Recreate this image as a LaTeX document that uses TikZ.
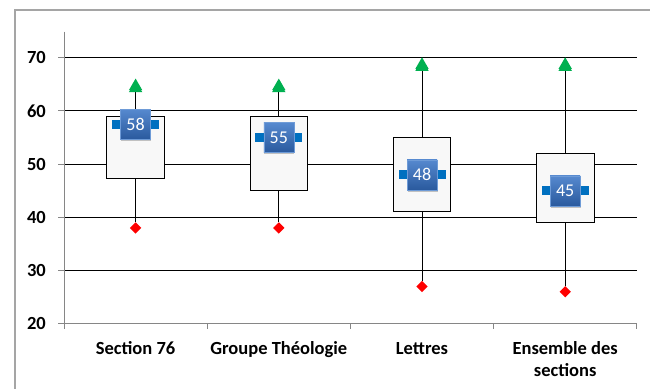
\documentclass[tikz,border=0pt]{standalone}
\usepackage{fontspec}
\setmainfont{Carlito}
\usetikzlibrary{shapes.geometric,shadows}
\definecolor{medblue}{RGB}{0,112,192}
\definecolor{lblTop}{RGB}{86,137,207}
\definecolor{lblBot}{RGB}{42,90,158}
\definecolor{lblEdge}{RGB}{110,155,215}
\definecolor{boxfill}{RGB}{248,248,248}
\definecolor{axisgray}{RGB}{134,134,134}
\definecolor{framegray}{RGB}{165,165,165}
\definecolor{maxgreen}{RGB}{0,176,80}
\pgfmathdeclarefunction{yv}{1}{\pgfmathparse{323.7-5.32*(#1-20)}}
\tikzset{
  grid line/.style={black, line width=1pt},
  axis line/.style={axisgray, line width=1pt},
  boxst/.style={draw=black, fill=boxfill, line width=1pt, minimum width=57.6pt, inner sep=0pt, outer sep=0pt},
  whisk/.style={black, line width=1pt},
  maxmk/.style={regular polygon, regular polygon sides=3, minimum size=15.5pt, inner sep=0pt, fill=maxgreen, yshift=-2pt},
  minmk/.style={diamond, minimum width=11.5pt, minimum height=11.5pt, inner sep=0pt, fill=red},
  medbar/.style={fill=medblue, minimum width=47pt, minimum height=9pt, inner sep=0pt},
  medlbl/.style={top color=lblTop, bottom color=lblBot, draw=lblEdge, line width=0.4pt, minimum size=30pt, inner sep=0pt, text=white, font=\fontsize{18}{20}\selectfont,
     drop shadow={shadow xshift=0.5pt, shadow yshift=-1.8pt, opacity=0.22, fill=black}},
  ticklbl/.style={anchor=east, inner sep=0pt, font=\fontsize{18.5}{20}\selectfont\bfseries},
  catlbl/.style={anchor=base, inner sep=0pt, align=center, font=\fontsize{18.5}{22}\selectfont\bfseries}
}
\begin{document}
\begin{tikzpicture}[x=1pt,y=-1pt]
\useasboundingbox (0,0) rectangle (650,388);
% outer frame
\draw[framegray, line width=1.5pt] (15,392) -- (15,10) -- (654,10);
% gridlines
\foreach \v in {30,40,50,60,70}{
  \draw[grid line] (64,{yv(\v)}) -- (636.7,{yv(\v)});
}
% axes
\draw[axis line] (64,31.7) -- (64,{yv(20)});
\foreach \v in {20,30,40,50,60,70}{
  \draw[axis line] (58,{yv(\v)}) -- (64,{yv(\v)});
  \node[ticklbl] (t\v) at (46,{yv(\v)}) {\v};
}
\draw[axis line] (64,{yv(20)}) -- (636.7,{yv(20)});
\foreach \x in {64,207.2,350.4,493.6,636.7}{
  \draw[axis line] (\x,{yv(20)}) -- (\x,{yv(20)+5.5});
}
% data: name/x/q1/q3/med/min/max/label
\foreach \n/\x/\qa/\qb/\md/\mn/\mx/\lb in {
   1/135.6/47.3/59/57.5/38/65/58,
   2/278.8/45/59/55/38/65/55,
   3/422/41/55/48/27/69/48,
   4/565.2/39/52/45/26/69/45}{
  \node[maxmk] (max\n) at (\x,{yv(\mx)}) {};
  \node[minmk] (min\n) at (\x,{yv(\mn)}) {};
  \node[boxst, minimum height={5.32*(\qb-\qa)}] (box\n) at (\x,{yv((\qa+\qb)/2)}) {};
  \draw[whisk] (box\n.north) -- (max\n.south);
  \draw[whisk] (box\n.south) -- (min\n.north);
  \node[maxmk] at (max\n) {};
  \node[medbar] (bar\n) at (\x,{yv(\md)}) {};
  \node[medlbl] (lbl\n) at (\x,{yv(\md)}) {\lb};
}
% categories
\node[catlbl] (c1) at (135.6,354) {Section 76};
\node[catlbl] (c2) at (278.8,354) {Groupe Théologie};
\node[catlbl] (c3) at (422,354) {Lettres};
\node[catlbl, anchor=north] (c4) at (565.2,341) {Ensemble des\\sections};
\end{tikzpicture}
\end{document}
